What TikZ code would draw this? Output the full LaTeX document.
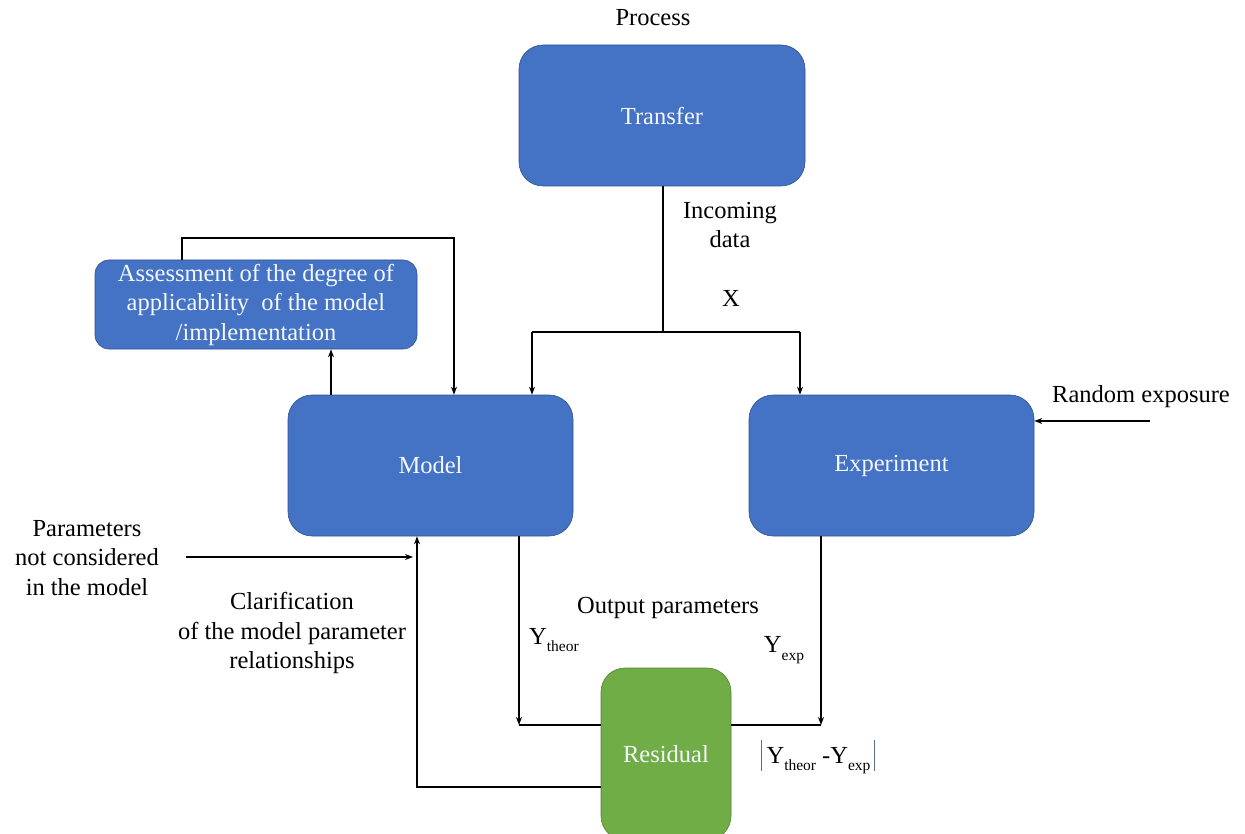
\documentclass[tikz,border=0pt]{standalone}
\usepackage{fontspec}
\IfFontExistsTF{Liberation Serif}{\setmainfont{Liberation Serif}\def\fontmsg{found}}{\setmainfont{LiberationSerif-Regular.ttf}\def\fontmsg{missing}}
\usetikzlibrary{arrows.meta}

\definecolor{boxblue}{RGB}{68,114,196}
\definecolor{boxblueline}{RGB}{47,82,143}
\definecolor{boxgreen}{RGB}{112,173,71}
\definecolor{boxgreenline}{RGB}{84,130,53}
\definecolor{barcol}{RGB}{84,110,150}

\newcommand{\bigfont}{\fontsize{24.5}{29.5}\selectfont}
\newcommand{\sub}[1]{\raisebox{-0.3em}{\fontsize{15.5}{15.5}\selectfont #1}}
\newcommand{\absbar}{{\color{barcol}\rule[-0.3em]{1pt}{1.25em}}}

\tikzset{
  blockbox/.style={draw=boxblueline, line width=0.6pt, fill=boxblue, text=white!94!boxblue,
    rounded corners=24pt, inner sep=0pt, align=center, font=\bigfont},
  lbl/.style={align=center, font=\bigfont, inner sep=0pt},
  flow/.style={line width=2.4pt},
  arr/.style={flow, -{Stealth[length=8pt,width=6pt]}}
}

\begin{document}
\begin{tikzpicture}[x=1pt,y=1pt,yscale=-1,xscale=1]
\useasboundingbox (0,0) rectangle (1245,834);
\clip (0,0) rectangle (1245,834);

%Shape: Rounded Rect [transfer]
\node[blockbox, minimum width=286pt, minimum height=141pt] (transfer) at (662,115.5) {Transfer};
%Shape: Rounded Rect [assess]
\node[blockbox, rounded corners=14pt, minimum width=322pt, minimum height=89pt] (assess) at (256,304.5)
  {Assessment of the degree of\\applicability\ \ of the model\\/implementation};
%Shape: Rounded Rect [model]
\node[blockbox, minimum width=285pt, minimum height=141pt] (model) at (430.5,465.5) {Model};
%Shape: Rounded Rect [experiment]
\node[blockbox, minimum width=285pt, minimum height=141pt] (experiment) at (891.5,465.5) {Experiment};
%Shape: Rounded Rect [residual]
\node[blockbox, fill=boxgreen, draw=boxgreenline, minimum width=130pt, minimum height=172pt] (residual) at (666,754) {Residual};

% Text Node
\node[lbl] (process) at (653,18) {Process};
% Text Node
\node[lbl] (incoming) at (730,225) {Incoming\\data};
% Text Node
\node[lbl] (xin) at (731,298) {X};
% Text Node
\node[lbl] (random) at (1141,397) {Random exposure};
% Text Node
\node[lbl] (params) at (87,558) {Parameters\\not considered\\in the model};
% Text Node
\node[lbl] (clarif) at (292,633) {Clarification\\of the model parameter\\relationships};
% Text Node
\node[lbl] (output) at (668,608) {Output parameters};
% Text Node
\node[lbl, anchor=west] (ytheor) at (529,640) {Y\sub{theor}};
% Text Node
\node[lbl] (yexp) at (784,650) {Y\sub{exp}};
% Text Node
\node[lbl] (resid) at (818,757) {\absbar\hspace{5pt}Y\sub{theor} -Y\sub{exp}\hspace{4pt}\absbar};

\coordinate (split) at (663,332);
\coordinate (xl) at (532,332);
\coordinate (xr) at (800,332);
\coordinate (loopl) at (182,238);
\coordinate (loopr) at (454,238);
\coordinate (upx) at (331,372);
\coordinate (rin) at (1150,421);
\coordinate (pend) at (413,557);
\coordinate (fb) at (417,787);
\coordinate (th) at (519,725);
\coordinate (ex) at (821,725);

%Straight Lines
\draw[flow] (split |- transfer.south) -- (split);
\draw[flow] (xl) -- (xr);
\draw[arr] (xl) -- (xl |- model.north);
\draw[arr] (xr) -- (xr |- experiment.north);
%Straight Lines
\draw[arr] (loopl |- assess.north) -- (loopl) -- (loopr) -- (loopr |- model.north);
\draw[arr] (upx |- model.north) -- (upx |- assess.south);
%Straight Lines
\draw[arr] (rin) -- (rin -| experiment.east);
\draw[arr] ([xshift=27pt]params.east |- pend) -- (pend);
\draw[arr] (fb -| residual.west) -- (fb) -- (fb |- model.south);
%Straight Lines
\draw[arr] (th |- model.south) -- (th);
\draw[flow] (th) -- (th -| residual.west);
\draw[arr] (ex |- experiment.south) -- (ex);
\draw[flow] (ex) -- (ex -| residual.east);

\end{tikzpicture}
\end{document}
